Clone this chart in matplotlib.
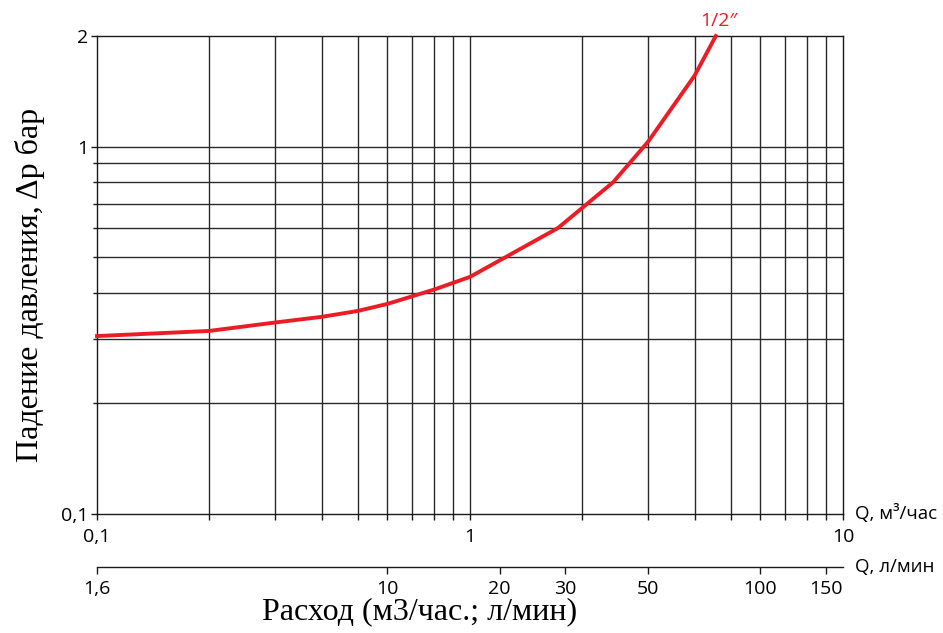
import matplotlib
matplotlib.use("Agg")
import matplotlib.pyplot as plt
from matplotlib.ticker import FixedLocator, NullFormatter, NullLocator

# --- data ---
flow_m3h = [0.1, 0.2, 0.3, 0.4, 0.5, 0.6, 0.8, 1.0, 1.72, 2.42, 3.0, 4.0, 4.56]
dp_bar = [0.305, 0.315, 0.332, 0.344, 0.357, 0.373, 0.408, 0.442, 0.60, 0.80, 1.03, 1.56, 2.0]
series_label = "1/2\u2033"

x_major = [0.1, 1, 10]
x_major_labels = ["0,1", "1", "10"]
x_grid = [0.2, 0.3, 0.4, 0.5, 0.6, 0.7, 0.8, 0.9, 2, 3, 4, 5, 6, 7, 8, 9]
y_major = [0.1, 1, 2]
y_major_labels = ["0,1", "1", "2"]
y_grid = [0.2, 0.3, 0.4, 0.5, 0.6, 0.7, 0.8, 0.9]
lmin_ticks = [1.667, 10, 20, 30, 50, 100, 150]
lmin_labels = ["1,6", "10", "20", "30", "50", "100", "150"]
LMIN_PER_M3H = 1000.0 / 60.0

FONT = ["Open Sans", "DejaVu Sans"]
SERIF = ["Liberation Serif", "DejaVu Serif"]
plt.rcParams['font.family'] = FONT

fig = plt.figure(figsize=(9.43, 6.33), dpi=100)
ax = fig.add_axes([97/943, 1-514/633, (843-97)/943, (514-36)/633])
ax.set_xscale('log')
ax.set_yscale('log')
ax.set_xlim(0.1, 10)
ax.set_ylim(0.1, 2)

gcol = '#2a2a2a'
for v in x_grid + [1]:
    ax.axvline(v, color=gcol, lw=1.0, zorder=1)
for v in y_grid + [1]:
    ax.axhline(v, color=gcol, lw=1.0, zorder=1)

ax.plot(flow_m3h, dp_bar, color='#ec1c24', lw=2.8, zorder=3, solid_joinstyle='round',
        clip_on=False)
ax.text(flow_m3h[-1] + 0.1, dp_bar[-1] * 1.04, series_label, color='#ec1c24',
        fontsize=14, ha='center', va='bottom')

for s in ax.spines.values():
    s.set_color('#1a1a1a')
    s.set_linewidth(1.0)

ax.xaxis.set_major_locator(FixedLocator(x_major))
ax.xaxis.set_minor_locator(FixedLocator(x_grid))
ax.set_xticklabels(x_major_labels)
ax.xaxis.set_minor_formatter(NullFormatter())
ax.yaxis.set_major_locator(FixedLocator(y_major))
ax.yaxis.set_minor_locator(FixedLocator(y_grid))
ax.set_yticklabels(y_major_labels)
ax.yaxis.set_minor_formatter(NullFormatter())
ax.tick_params(axis='both', which='both', length=4, width=1.0, color='#1a1a1a',
               labelsize=14, pad=2)
ax.tick_params(axis='x', which='major', pad=6)
ax.tick_params(axis='y', which='minor', length=3)

# secondary axis in l/min
sec = ax.secondary_xaxis(-0.111, functions=(lambda x: x * LMIN_PER_M3H,
                                              lambda x: x / LMIN_PER_M3H))
sec.xaxis.set_major_locator(FixedLocator(lmin_ticks))
sec.xaxis.set_minor_locator(NullLocator())
sec.set_xticklabels(lmin_labels)
sec.tick_params(axis='x', length=5, width=1.0, color='#1a1a1a', labelsize=14, pad=4)
sec.spines['bottom'].set_color('#1a1a1a')
sec.spines['bottom'].set_linewidth(1.0)

fig.text(855/943, 1-514/633, "Q, м\u00b3/час", fontsize=13.5, ha='left', va='center')
fig.text(855/943, 1-567/633, "Q, л/мин", fontsize=13.5, ha='left', va='center')

fig.text(420/943, 1-612/633, "Расход (м3/час.; л/мин)", fontsize=23,
         family=SERIF, ha='center', va='center')
fig.text(30/943, 1-285/633, "Падение давления, Δр бар", fontsize=23,
         family=SERIF, ha='center', va='center', rotation=90)

fig.savefig("out.png", dpi=100)
